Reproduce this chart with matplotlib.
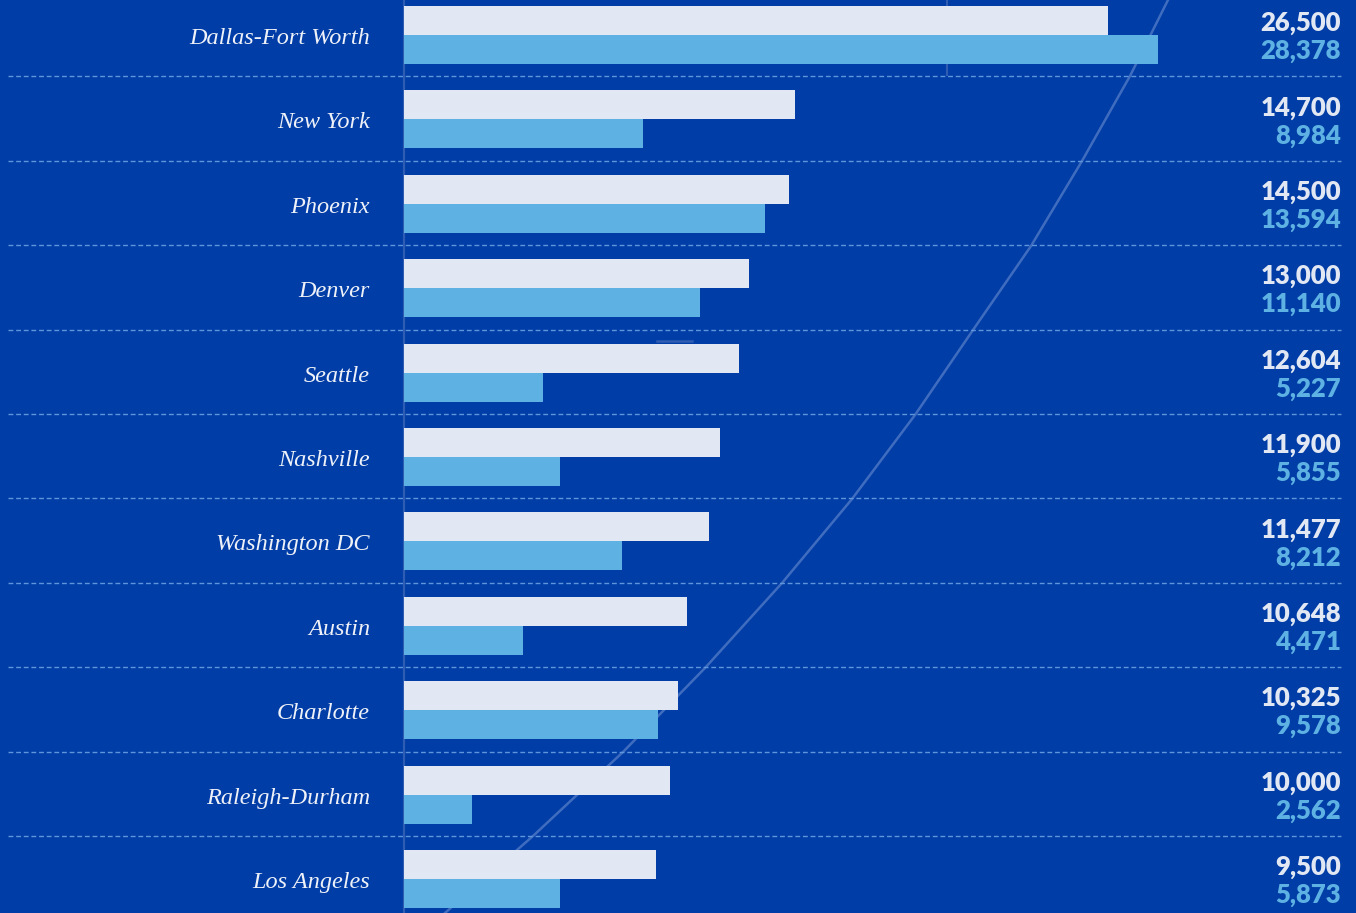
import matplotlib
matplotlib.use('Agg')
import matplotlib.pyplot as plt

cities = ['Dallas-Fort Worth', 'New York', 'Phoenix', 'Denver', 'Seattle',
          'Nashville', 'Washington DC', 'Austin', 'Charlotte', 'Raleigh-Durham',
          'Los Angeles']
series_a = [26500, 14700, 14500, 13000, 12604, 11900, 11477, 10648, 10325, 10000, 9500]
series_b = [28378, 8984, 13594, 11140, 5227, 5855, 8212, 4471, 9578, 2562, 5873]

# faint decorative curve behind the bars (pixel coords of the original graphic)
curve_y = [0, 76, 161, 246, 330, 415, 499, 583, 668, 752, 836, 913]
curve_x = [1168, 1130, 1082, 1031, 973, 915, 852, 782, 705, 623, 533, 445]

bg = '#003da6'
light = '#e1e7f3'
blue = '#5eb1e3'

W, H = 1356, 913
fig = plt.figure(figsize=(W / 100, H / 100), dpi=100, facecolor=bg)

# background layer in pixel units
back = fig.add_axes([0, 0, 1, 1], zorder=0)
back.set_xlim(0, W)
back.set_ylim(H, 0)
back.axis('off')
back.set_facecolor(bg)
back.plot(curve_x, curve_y, color='#4f79c6', lw=1.8, alpha=0.8)
back.plot([947, 947], [0, 75], color='#2f5db3', lw=1.5)
back.plot([657, 692], [341, 341], color='#2f5db3', lw=1.8)

# bar layer
ax = fig.add_axes([0, 0, 1, 1], zorder=1)
ax.patch.set_alpha(0)
ax.axis('off')
px = 0.026566           # pixels per unit
x0 = 404                # pixel of zero
pitch = 84.4            # row pitch in pixels
ax.set_xlim(-x0 / px, (W - x0) / px)
ax.set_ylim((H - 35) / pitch, -35 / pitch)

bh = 29 / pitch
rows = list(range(len(cities)))
ax.barh([r - bh / 2 for r in rows], series_a, height=bh, color=light, zorder=3)
ax.barh([r + bh / 2 for r in rows], series_b, height=bh, color=blue, zorder=3)
ax.axvline(-0.5 / px, color='#2f5db3', lw=1.6, zorder=2)

for r in rows[:-1]:
    ax.plot([(8 - x0) / px, (1341 - x0) / px], [r + 0.49, r + 0.49],
            color='#5f95dc', lw=1.0, dashes=(3.5, 2), zorder=2)

lab_x = (370 - x0) / px
val_x = (1341 - x0) / px
for r, c, a, b in zip(rows, cities, series_a, series_b):
    ax.text(lab_x, r + 9 / pitch, c, ha='right', va='baseline', color='#eef1f8',
            fontsize=17.5, style='italic', family=['Liberation Serif', 'DejaVu Serif'])
    ax.text(val_x, r - 4 / pitch, f'{a:,}', ha='right', va='baseline', color=light,
            fontsize=18.5, fontweight='heavy', family=['Lato', 'DejaVu Sans'])
    ax.text(val_x, r + 24 / pitch, f'{b:,}', ha='right', va='baseline', color=blue,
            fontsize=18.5, fontweight='heavy', family=['Lato', 'DejaVu Sans'])

fig.savefig('out.png', dpi=100, facecolor=bg)
